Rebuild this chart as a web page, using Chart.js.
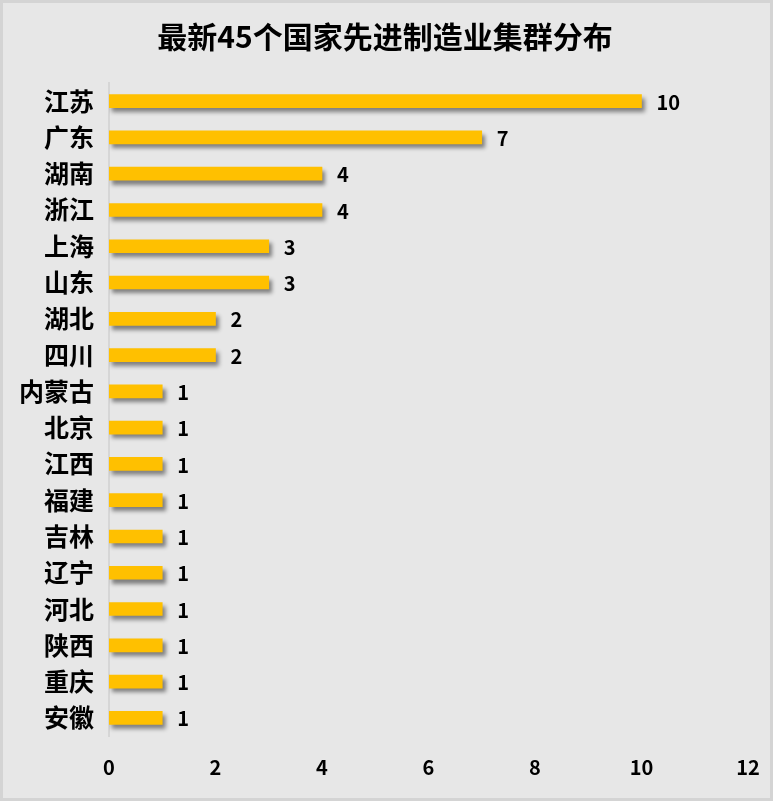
<!DOCTYPE html>
<html>
<head>
<meta charset="utf-8">
<script src="https://cdn.jsdelivr.net/npm/chart.js@4/dist/chart.umd.min.js"></script>
<style>
    html, body { margin: 0; padding: 0; background: #e7e7e7; }
    #wrap { width: 773px; height: 801px; }
</style>
</head>
<body>
<div id="wrap"><canvas id="clusterChart"></canvas></div>
<script>
// 数据
const provinces = ['江苏', '广东', '湖南', '浙江', '上海', '山东', '湖北', '四川', '内蒙古',
    '北京', '江西', '福建', '吉林', '辽宁', '河北', '陕西', '重庆', '安徽'];
const clusterCounts = [10, 7, 4, 4, 3, 3, 2, 2, 1, 1, 1, 1, 1, 1, 1, 1, 1, 1];
const xTicks = [0, 2, 4, 6, 8, 10, 12];

const cjkFont = '"Noto Sans CJK SC", "Microsoft YaHei", sans-serif';

// 背景和边框
const backgroundPlugin = {
    id: 'bgPlugin',
    beforeDraw(chart) {
        const ctx = chart.ctx;
        ctx.save();
        ctx.fillStyle = '#e7e7e7';
        ctx.fillRect(0, 0, chart.width, chart.height);
        ctx.strokeStyle = '#d4d4d4';
        ctx.lineWidth = 3;
        ctx.strokeRect(1.5, 1.5, chart.width - 3, chart.height - 3);
        ctx.restore();
    }
};

// 柱子阴影
const shadowPlugin = {
    id: 'barShadow',
    beforeDatasetDraw(chart) {
        const ctx = chart.ctx;
        ctx.save();
        ctx.shadowColor = 'rgba(0, 0, 0, 0.45)';
        ctx.shadowBlur = 4;
        ctx.shadowOffsetX = 3;
        ctx.shadowOffsetY = 4;
    },
    afterDatasetDraw(chart) {
        chart.ctx.restore();
    }
};

// 数值标签
const valueLabelPlugin = {
    id: 'valueLabels',
    afterDatasetsDraw(chart) {
        const ctx = chart.ctx;
        const meta = chart.getDatasetMeta(0);
        ctx.save();
        ctx.fillStyle = '#000';
        ctx.font = 'bold 20px ' + cjkFont;
        ctx.textAlign = 'left';
        ctx.textBaseline = 'middle';
        meta.data.forEach((bar, i) => {
            ctx.fillText(clusterCounts[i], bar.x + 15, bar.y + 1);
        });
        ctx.restore();
    }
};

new Chart(document.getElementById('clusterChart'), {
    type: 'bar',
    data: {
        labels: provinces,
        datasets: [{
            data: clusterCounts,
            backgroundColor: '#ffc000',
            borderWidth: 0,
            barThickness: 13
        }]
    },
    options: {
        indexAxis: 'y',
        responsive: true,
        maintainAspectRatio: false,
        animation: false,
        layout: {
            padding: { left: 0, right: 3, top: 0, bottom: 0 }
        },
        plugins: {
            legend: { display: false },
            tooltip: { enabled: false },
            title: {
                display: true,
                text: '最新45个国家先进制造业集群分布',
                color: '#000',
                font: { family: cjkFont, size: 30, weight: 'bold', lineHeight: 1.2 },
                padding: { top: 19, bottom: 28 }
            }
        },
        scales: {
            x: {
                min: 0,
                max: 12,
                afterBuildTicks(scale) {
                    scale.ticks = xTicks.map(v => ({ value: v }));
                },
                afterFit(scale) {
                    scale.height = 65;
                    scale.paddingLeft = 0;
                    scale.paddingRight = 25;
                },
                grid: { display: false, drawTicks: false },
                border: { display: false },
                ticks: {
                    color: '#000',
                    padding: 19,
                    font: { family: cjkFont, size: 20, weight: 'bold' }
                }
            },
            y: {
                afterFit(scale) {
                    scale.width = 109;
                },
                grid: { display: false, drawTicks: false },
                border: { display: true, color: '#d6d6d6', width: 2 },
                ticks: {
                    color: '#000',
                    padding: 15,
                    font: { family: cjkFont, size: 25, weight: 'bold' }
                }
            }
        }
    },
    plugins: [backgroundPlugin, shadowPlugin, valueLabelPlugin]
});
</script>
</body>
</html>
